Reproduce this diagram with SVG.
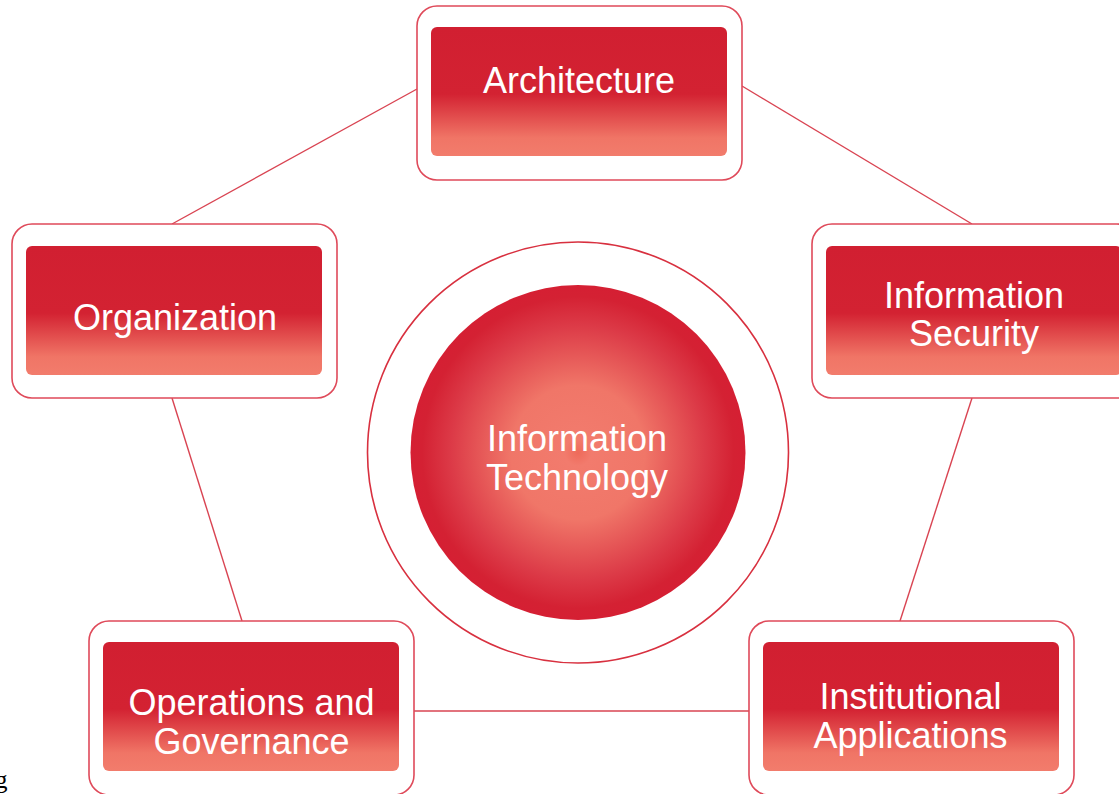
<svg xmlns="http://www.w3.org/2000/svg" width="1119" height="794" viewBox="0 0 1119 794">
<defs>
<linearGradient id="boxGrad" x1="0" y1="0" x2="0" y2="1">
<stop offset="0" stop-color="#d11f31"/>
<stop offset="0.52" stop-color="#d32232"/>
<stop offset="0.86" stop-color="#f07566"/>
<stop offset="1" stop-color="#f27c6c"/>
</linearGradient>
<radialGradient id="circGrad" cx="0.5" cy="0.5" r="0.5">
<stop offset="0" stop-color="#ee6a5a"/>
<stop offset="0.08" stop-color="#f27b6d"/>
<stop offset="0.4" stop-color="#f07668"/>
<stop offset="0.76" stop-color="#dc3a47"/>
<stop offset="0.93" stop-color="#d42133"/>
<stop offset="1" stop-color="#d51f33"/>
</radialGradient>
</defs>
<style>
.outer{fill:#ffffff;stroke:#df4a5a;stroke-width:1.6}
.inner{fill:url(#boxGrad)}
.lbl{font-family:"Liberation Sans",Arial,sans-serif;font-size:36px;fill:#ffffff;text-anchor:middle}
.conn{stroke:#d94452;stroke-width:1.4;fill:none}
</style>
<rect width="1119" height="794" fill="#ffffff"/>
<g id="connectors">
<line class="conn" x1="417" y1="89" x2="172" y2="224"/>
<line class="conn" x1="742" y1="86" x2="972" y2="224"/>
<line class="conn" x1="972" y1="398" x2="900" y2="621"/>
<line class="conn" x1="749" y1="711" x2="414" y2="711"/>
<line class="conn" x1="242" y1="621" x2="172" y2="398"/>
</g>
<g id="center">
<circle cx="578" cy="452.5" r="210.5" fill="#ffffff" stroke="#d8303f" stroke-width="1.6"/>
<circle cx="578" cy="452.5" r="167.5" fill="url(#circGrad)"/>
<text class="lbl" x="577" y="451">Information</text>
<text class="lbl" x="577" y="490">Technology</text>
</g>
<g id="architecture">
<rect class="outer" x="417" y="6" width="325" height="174" rx="20"/>
<rect class="inner" x="431" y="27" width="296" height="129" rx="6"/>
<text class="lbl" x="579" y="93">Architecture</text>
</g>
<g id="information-security">
<rect class="outer" x="812" y="224" width="325" height="174" rx="20"/>
<rect class="inner" x="826" y="246" width="296" height="129" rx="6"/>
<text class="lbl" x="974" y="308">Information</text>
<text class="lbl" x="974" y="346">Security</text>
</g>
<g id="institutional-applications">
<rect class="outer" x="749" y="621" width="325" height="174" rx="20"/>
<rect class="inner" x="763" y="642" width="296" height="129" rx="6"/>
<text class="lbl" x="910.5" y="709">Institutional</text>
<text class="lbl" x="910.5" y="748">Applications</text>
</g>
<g id="operations-governance">
<rect class="outer" x="89" y="621" width="325" height="174" rx="20"/>
<rect class="inner" x="103" y="642" width="296" height="129" rx="6"/>
<text class="lbl" x="251.5" y="715">Operations and</text>
<text class="lbl" x="251.5" y="754">Governance</text>
</g>
<g id="organization">
<rect class="outer" x="12" y="224" width="325" height="174" rx="20"/>
<rect class="inner" x="26" y="246" width="296" height="129" rx="6"/>
<text class="lbl" x="175" y="330">Organization</text>
</g>
<text x="-5" y="788" font-family="Liberation Serif,serif" font-size="25" fill="#000000">g</text>
</svg>
